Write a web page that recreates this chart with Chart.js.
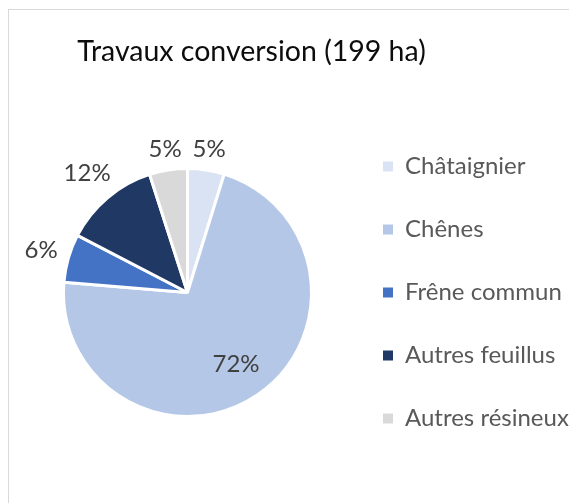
<!DOCTYPE html>
<html>
<head>
<meta charset="utf-8">
<script src="https://cdn.jsdelivr.net/npm/chart.js@4"></script>
<style>
  html, body { margin: 0; padding: 0; overflow: hidden; background: #fff; }
  #page { position: relative; width: 569px; height: 503px; overflow: hidden; }
  #frame {
    position: absolute; left: 8px; top: 9px; width: 620px; height: 560px;
    border-top: 1px solid #d9d9d9; border-left: 1px solid #d9d9d9;
  }
  #title {
    position: absolute; left: 0; top: 26px; width: 485px;
    text-align: center; white-space: nowrap;
    font: 28.5px/28.5px Lato, sans-serif; color: #0d0d0d;
  }
  #chart { position: absolute; left: 0; top: 0; }
</style>
</head>
<body>
<div id="page">
  <div id="frame">
    <canvas id="chart" width="563" height="565"></canvas>
    <div id="title">Travaux conversion (199 ha)</div>
  </div>
</div>
<script>
// ================= DATA =================
const categories = ["Châtaignier", "Chênes", "Frêne commun", "Autres feuillus", "Autres résineux"];
const surfaces = [9.5, 142, 12.5, 24.7, 9.8]; // ha, about 199 in total

// ================= STYLE =================
const sliceColors = ["#dae3f3", "#b4c7e7", "#4472c4", "#203864", "#d9d9d9"];
const FONT = "Lato, sans-serif";
const FONT_SIZE = 24;

// ===== percentage labels (outside for small slices, inside for the big one) =====
const pieLabels = {
  id: "pieLabels",
  afterDatasetsDraw(chart) {
    const ctx = chart.ctx;
    const meta = chart.getDatasetMeta(0);
    const total = surfaces.reduce((s, v) => s + v, 0);

    ctx.save();
    ctx.font = `${FONT_SIZE}px ${FONT}`;
    ctx.fillStyle = "#404040";
    ctx.textAlign = "center";
    ctx.textBaseline = "middle";

    meta.data.forEach((arc, i) => {
      const { x, y, startAngle, endAngle, outerRadius } =
        arc.getProps(["x", "y", "startAngle", "endAngle", "outerRadius"], true);
      const mid = (startAngle + endAngle) / 2;
      const share = surfaces[i] / total;
      const text = Math.round(share * 100) + "%";

      let dist;
      if (share > 0.3) {
        dist = outerRadius * 0.7;
      } else {
        const w = ctx.measureText(text).width;
        const h = 17;
        dist = outerRadius + 10 + Math.abs(Math.cos(mid)) * w / 2 + Math.abs(Math.sin(mid)) * h / 2;
      }
      ctx.fillText(text, x + Math.cos(mid) * dist, y + Math.sin(mid) * dist);
    });
    ctx.restore();
  }
};

// legend boxes without the white slice border
function legendLabels(chart) {
  const base = Chart.overrides.doughnut.plugins.legend.labels.generateLabels(chart);
  return base.map(item => ({ ...item, lineWidth: 0 }));
}

new Chart(document.getElementById("chart"), {
  type: "pie",
  data: {
    labels: categories,
    datasets: [{
      data: surfaces,
      backgroundColor: sliceColors,
      borderColor: "#ffffff",
      borderWidth: 3,
      radius: 124
    }]
  },
  options: {
    responsive: false,
    animation: false,
    layout: { padding: { left: 22, right: 0, top: 0, bottom: 0 } },
    plugins: {
      title: { display: false },
      tooltip: { enabled: false },
      legend: {
        position: "right",
        maxWidth: 228,
        labels: {
          generateLabels: legendLabels,
          boxWidth: 10,
          boxHeight: 10,
          padding: 63 - FONT_SIZE,
          color: "#595959",
          font: { family: FONT, size: FONT_SIZE }
        }
      }
    }
  },
  plugins: [pieLabels]
});
</script>
</body>
</html>
